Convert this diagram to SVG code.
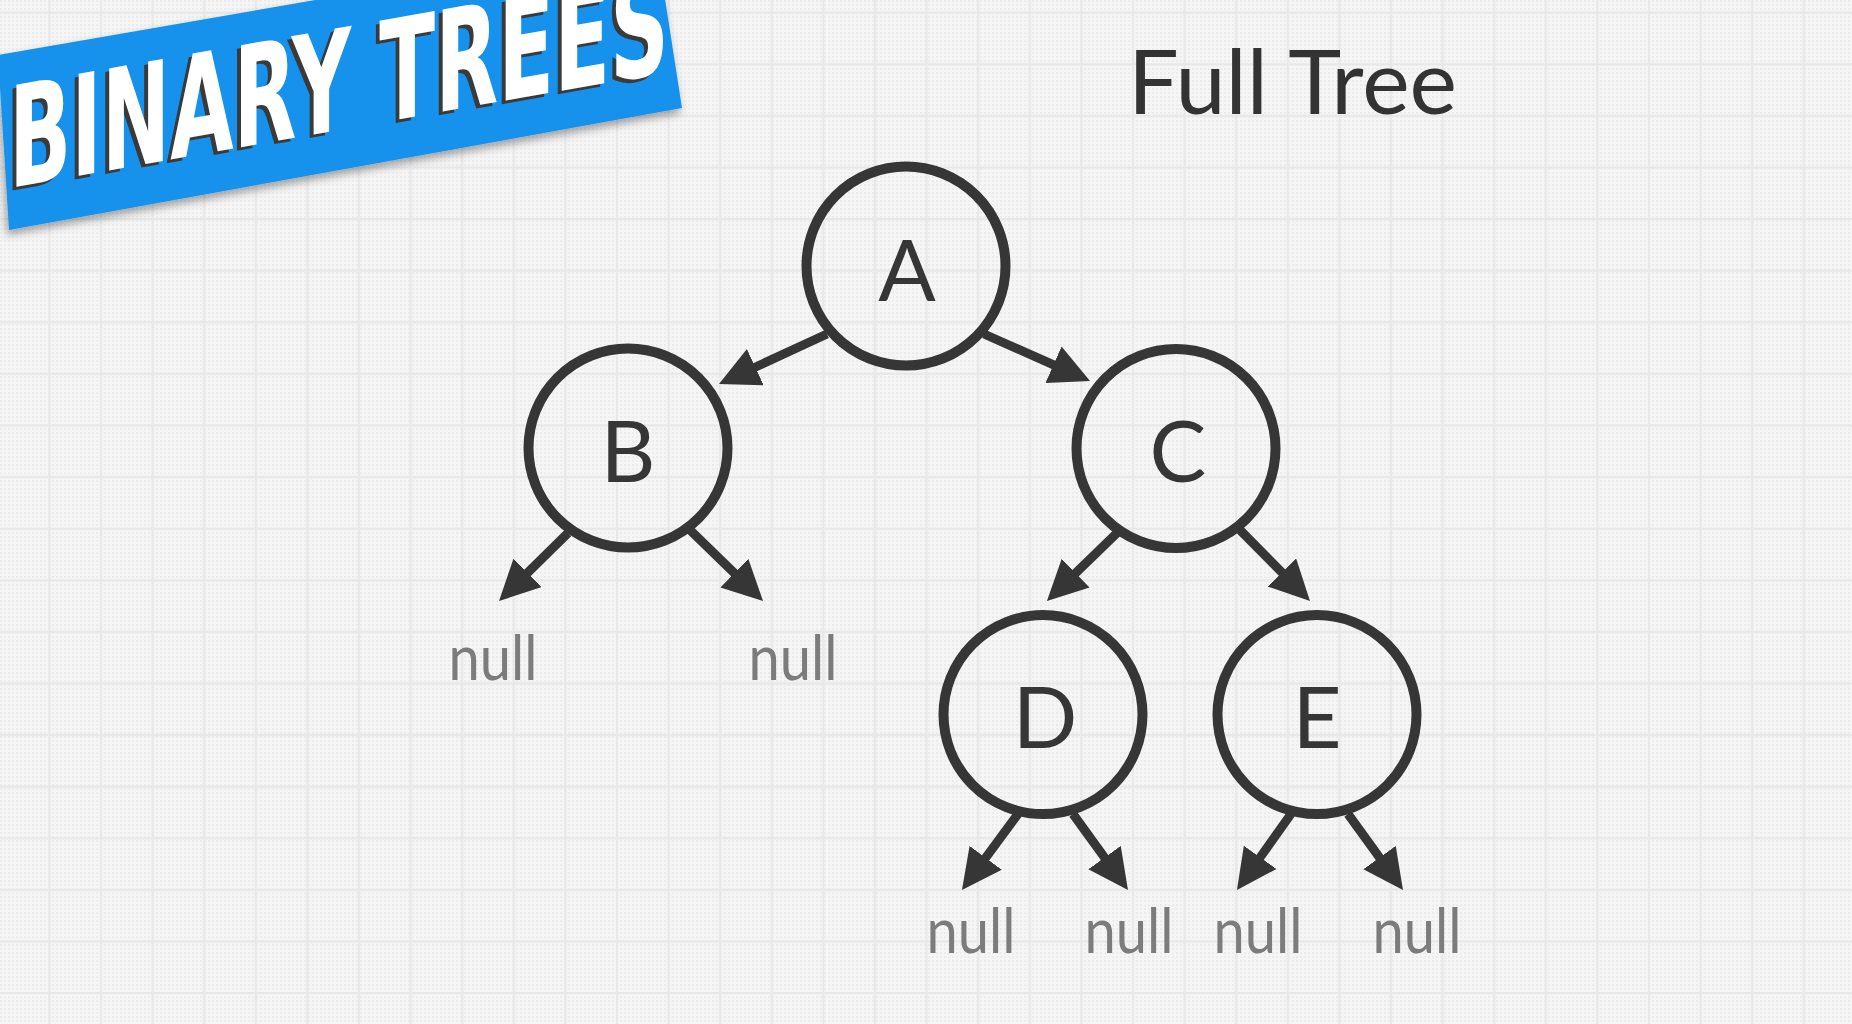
<svg xmlns="http://www.w3.org/2000/svg" width="1852" height="1024" viewBox="0 0 1852 1024">
  <defs>
    <pattern id="dots" width="4" height="4" patternUnits="userSpaceOnUse">
      <rect width="4" height="4" fill="#f5f5f5"/>
      <rect width="2" height="2" fill="#ececec"/>
    </pattern>
    <pattern id="grid" x="48.3" y="11.6" width="51.6" height="51.6" patternUnits="userSpaceOnUse">
      <rect x="0" y="0" width="2.2" height="51.6" fill="#e8e8e8"/>
      <rect x="0" y="0" width="51.6" height="2.2" fill="#e8e8e8"/>
    </pattern>
    <marker id="arrow" markerUnits="userSpaceOnUse" markerWidth="40" markerHeight="40" viewBox="0 0 40 40" refX="2" refY="20" orient="auto">
      <path d="M0,0 L40,20 L0,40 Z" fill="#363636"/>
    </marker>
    <filter id="bshadow" x="-10%" y="-30%" width="120%" height="160%">
      <feDropShadow dx="-2" dy="5" stdDeviation="4" flood-color="#000" flood-opacity="0.35"/>
    </filter>
    <style>
      .node circle { fill: none; stroke: #363636; stroke-width: 10; }
      .node text { font-family: Lato, "Open Sans", "Liberation Sans", sans-serif; font-size: 85px; fill: #363636; text-anchor: middle; }
      .edge { stroke: #363636; stroke-width: 9; fill: none; marker-end: url(#arrow); }
      .null { font-family: Lato, "Open Sans", "Liberation Sans", sans-serif; font-size: 62px; fill: #7c7c7c; text-anchor: middle; }
      .title { font-family: Lato, "Open Sans", "Liberation Sans", sans-serif; font-size: 90px; fill: #333333; }
      .banner-text { font-family: "Liberation Sans Narrow", "DejaVu Sans Condensed", "Liberation Sans", sans-serif; font-weight: bold; font-size: 140px; }
    </style>
  </defs>

  <rect width="1852" height="1024" fill="url(#dots)"/>
  <rect width="1852" height="1024" fill="url(#grid)"/>

  <g id="banner">
    <polygon points="-2,55 656,-59 682,108 9,230" fill="#1592ec" filter="url(#bshadow)"/>
    <g transform="translate(9,188) skewY(-10)">
      <text class="banner-text" x="-4" y="3" fill="#3a3a3a" textLength="660" lengthAdjust="spacingAndGlyphs">BINARY TREES</text>
      <text class="banner-text" x="0" y="0" fill="#ffffff" textLength="660" lengthAdjust="spacingAndGlyphs">BINARY TREES</text>
    </g>
  </g>

  <text id="title" class="title" x="1128" y="114" textLength="329" lengthAdjust="spacingAndGlyphs">Full Tree</text>

  <g id="connectors">
    <line class="edge" x1="827" y1="334" x2="753.5" y2="368"/>
    <line class="edge" x1="984" y1="334" x2="1055.3" y2="365.6"/>
    <line class="edge" x1="568" y1="533" x2="526.1" y2="574.3"/>
    <line class="edge" x1="690" y1="530" x2="735.8" y2="574.5"/>
    <line class="edge" x1="1118" y1="532" x2="1074.2" y2="574.5"/>
    <line class="edge" x1="1240" y1="530" x2="1283.3" y2="573.9"/>
    <line class="edge" x1="1018" y1="814" x2="984.5" y2="859.4"/>
    <line class="edge" x1="1073" y1="814" x2="1105.7" y2="859.2"/>
    <line class="edge" x1="1291" y1="814" x2="1259" y2="859"/>
    <line class="edge" x1="1348" y1="814" x2="1380.7" y2="859.2"/>
  </g>

  <g id="node-A" class="node"><circle cx="906" cy="266" r="99.5"/><text x="907" y="301">A</text></g>
  <g id="node-B" class="node"><circle cx="628" cy="448" r="99.5"/><text x="628" y="482">B</text></g>
  <g id="node-C" class="node"><circle cx="1176" cy="448.5" r="99.5"/><text x="1178" y="482">C</text></g>
  <g id="node-D" class="node"><circle cx="1043" cy="714.6" r="99.5"/><text x="1045" y="748">D</text></g>
  <g id="node-E" class="node"><circle cx="1317" cy="714.6" r="99.5"/><text x="1317" y="748">E</text></g>

  <g id="nulls">
    <text class="null" x="493" y="680" textLength="89" lengthAdjust="spacingAndGlyphs">null</text>
    <text class="null" x="793" y="680" textLength="89" lengthAdjust="spacingAndGlyphs">null</text>
    <text class="null" x="971" y="953" textLength="89" lengthAdjust="spacingAndGlyphs">null</text>
    <text class="null" x="1129" y="953" textLength="89" lengthAdjust="spacingAndGlyphs">null</text>
    <text class="null" x="1258" y="953" textLength="89" lengthAdjust="spacingAndGlyphs">null</text>
    <text class="null" x="1417" y="953" textLength="89" lengthAdjust="spacingAndGlyphs">null</text>
  </g>
</svg>
